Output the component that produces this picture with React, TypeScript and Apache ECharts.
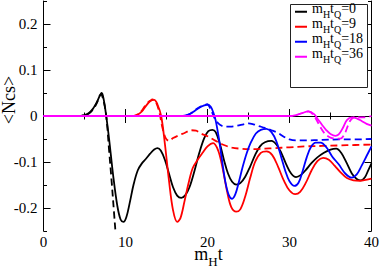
import React, { useEffect, useRef } from "react";
import * as echarts from "echarts";

const FONT = "Liberation Serif";

// legend / series identity
const quench = ["0", "9", "18", "36"];
const colors = ["#000000", "#ff0000", "#0000ff", "#ff00ff"];
const yMajor = [-0.2, -0.1, 0, 0.1, 0.2];

// mHtQ = 0 (solid / dashed)
const tK = [0,4.5,5,5.5,6,6.5,7.1,7.35,7.65,8,8.5,9,9.4,9.75,10.1,10.5,11,11.5,12,12.5,13,13.5,13.9,14.3,14.8,15.3,15.8,16.3,16.8,17.3,17.8,18.4,19,19.6,20.1,20.6,21,21.5,22,22.5,23,23.5,24,24.6,25.2,25.8,26.4,27,27.8,28.4,29,29.6,30.2,30.8,31.4,32,32.7,33.4,34.2,35,35.7,36.3,37,37.6,38.2,38.7,39.2,39.6,40];
const vK = [0,0,0.002,0.006,0.015,0.03,0.05,0.035,0,-0.05,-0.13,-0.195,-0.225,-0.23,-0.22,-0.19,-0.148,-0.118,-0.103,-0.093,-0.082,-0.073,-0.07,-0.075,-0.095,-0.125,-0.155,-0.173,-0.178,-0.172,-0.155,-0.12,-0.08,-0.048,-0.033,-0.03,-0.035,-0.06,-0.095,-0.125,-0.143,-0.149,-0.146,-0.132,-0.11,-0.085,-0.066,-0.057,-0.054,-0.062,-0.08,-0.105,-0.125,-0.133,-0.128,-0.117,-0.102,-0.09,-0.08,-0.073,-0.071,-0.08,-0.103,-0.125,-0.137,-0.14,-0.133,-0.118,-0.103];
const tKd = [0,4.5,5,5.5,6,6.5,7.0,7.3,7.65,8.0,8.3,8.6,8.9,9.2];
const vKd = [0,0,0.002,0.005,0.013,0.028,0.047,0.035,0,-0.075,-0.14,-0.21,-0.28,-0.35];

// mHtQ = 9
const tR = [0,11,11.5,12,12.5,13,13.5,13.9,14.35,14.8,15.3,15.8,16.3,16.7,17.2,17.7,18.2,18.8,19.4,20,20.7,21.3,21.8,22.4,22.9,23.5,24,24.6,25.2,25.8,26.5,27.2,27.9,28.6,29.3,30,30.7,31.3,32,32.7,33.4,34.1,34.8,35.5,36.2,37,37.8,38.6,39.3,40];
const vR = [0,0,0.003,0.01,0.022,0.032,0.035,0.025,0,-0.06,-0.14,-0.205,-0.23,-0.222,-0.185,-0.145,-0.113,-0.095,-0.08,-0.066,-0.059,-0.075,-0.11,-0.165,-0.198,-0.208,-0.203,-0.175,-0.135,-0.1,-0.08,-0.077,-0.085,-0.11,-0.14,-0.162,-0.17,-0.165,-0.145,-0.118,-0.098,-0.091,-0.095,-0.108,-0.122,-0.135,-0.14,-0.141,-0.139,-0.136];
const tRd = [0,11,11.5,12,12.5,13,13.3,13.7,14.1,14.5,14.9,15.3,15.8,16.5,17.2,18,18.6,19.2,20,21,22,23,24,25,26,27,28,30,32,34,36,38,40];
const vRd = [0,0,0.004,0.012,0.025,0.033,0.036,0.03,0.01,-0.025,-0.048,-0.054,-0.048,-0.042,-0.037,-0.031,-0.032,-0.038,-0.044,-0.054,-0.063,-0.069,-0.071,-0.072,-0.072,-0.071,-0.07,-0.068,-0.066,-0.065,-0.064,-0.063,-0.062];

// mHtQ = 18
const tB = [0,17,17.5,18,18.5,19,19.6,20,20.4,20.7,21,21.4,21.8,22.2,22.6,23,23.4,23.8,24.3,24.8,25.3,25.9,26.5,27.2,27.8,28.4,29,29.5,30,30.6,31.1,31.6,32.1,32.6,33.2,33.8,34.5,35.2,36,36.8,37.6,38.2,38.8,39.4,40];
const vB = [0,0,0.002,0.006,0.012,0.018,0.023,0.025,0.02,0.008,-0.01,-0.05,-0.1,-0.145,-0.172,-0.18,-0.17,-0.145,-0.11,-0.08,-0.057,-0.038,-0.03,-0.028,-0.035,-0.055,-0.09,-0.12,-0.142,-0.152,-0.145,-0.12,-0.09,-0.068,-0.058,-0.058,-0.068,-0.088,-0.105,-0.125,-0.134,-0.127,-0.108,-0.087,-0.066];
const tBd = [0,17,17.5,18,18.5,19,19.6,20,20.3,20.6,20.9,21.2,21.6,22,22.8,23.6,24.4,25,25.6,26.3,27,27.8,28.6,29.3,30,30.8,32,34,36,38,40];
const vBd = [0,0,0.002,0.006,0.013,0.019,0.024,0.025,0.018,0.006,-0.006,-0.014,-0.02,-0.023,-0.023,-0.021,-0.018,-0.016,-0.018,-0.022,-0.026,-0.031,-0.037,-0.045,-0.051,-0.053,-0.053,-0.052,-0.051,-0.051,-0.05];

// mHtQ = 36
const tM = [0,30,30.8,31.5,32.3,33,33.5,34,34.5,35,35.6,36,36.5,37,37.6,38.2,38.8,39.4,40];
const vM = [0,0,0.002,0.006,0.01,0.004,-0.008,-0.02,-0.031,-0.039,-0.043,-0.04,-0.026,-0.009,-0.003,-0.005,-0.011,-0.017,-0.021];
const tMd = [0,30,30.8,31.5,32.3,32.9,33.4,33.9,34.4,35,35.6,36.2,36.7,37.1,37.5,38,38.6,39.2,40];
const vMd = [0,0,0.002,0.006,0.01,0.003,-0.012,-0.028,-0.04,-0.047,-0.049,-0.049,-0.04,-0.022,-0.008,-0.002,-0.003,-0.003,0];

const zip = (t: number[], v: number[]) => t.map((x, i) => [x, v[i]]);

const names = quench.map((q) => `mHtQ=${q}`);

export default function App() {
  const ref = useRef<HTMLDivElement>(null);
  useEffect(() => {
    const chart = echarts.init(ref.current!, null, { renderer: "svg" });
    const solids = [zip(tK, vK), zip(tR, vR), zip(tB, vB), zip(tM, vM)];
    const dashes = [zip(tKd, vKd), zip(tRd, vRd), zip(tBd, vBd), zip(tMd, vMd)];
    const series: any[] = [];
    for (let i = 0; i < 4; i++) {
      series.push({
        type: "line", name: names[i] + " (dashed)", data: dashes[i], showSymbol: false, smooth: 0.35,
        clip: true, lineStyle: { color: colors[i], width: 1.8, type: [7, 4] }, itemStyle: { color: colors[i] },
      });
      series.push({
        type: "line", name: names[i], data: solids[i], showSymbol: false, smooth: 0.35,
        clip: true, lineStyle: { color: colors[i], width: 1.8 }, itemStyle: { color: colors[i] },
      });
    }
    const richLabel = { f: { fontFamily: FONT, fontSize: 15, color: "#000" } };
    const axisLine = { show: true, lineStyle: { color: "#000", width: 1 } };
    const baseX = {
      type: "value", min: 0, max: 40, interval: 10, axisLine,
      axisTick: { inside: true, length: 7, lineStyle: { color: "#000" } },
      minorTick: { show: true, splitNumber: 2, length: 3.5, lineStyle: { color: "#000" } },
      splitLine: { show: false }, minorSplitLine: { show: false },
    };
    const fmtY = (v: number) => {
      const r = Math.round(v * 10);
      return Math.abs(v * 10 - r) < 1e-6 ? `{f|${r === 0 ? "0" : String(r / 10)}}` : "";
    };
    const minorY = (pos: string, labels: boolean) => ({
      type: "value", position: pos, min: -0.25, max: 0.25, interval: 0.05, axisLine,
      axisTick: { inside: true, length: 3.5, lineStyle: { color: "#000" } },
      axisLabel: labels
        ? { show: true, formatter: fmtY, fontSize: 15, color: "#000", fontFamily: FONT, margin: 6, rich: richLabel }
        : { show: false },
      splitLine: { show: false },
    });
    const majorY = (pos: string) => ({
      type: "value", position: pos, min: -0.25, max: 0.25, interval: 0.05,
      axisLine: { show: false },
      axisTick: { inside: true, length: 7, customValues: yMajor, lineStyle: { color: "#000" } },
      axisLabel: { show: false }, splitLine: { show: false },
    });
    chart.setOption({
      animation: false,
      backgroundColor: "#fff",
      textStyle: { fontFamily: FONT },
      grid: { left: 43.5, right: 9.5, top: 1, bottom: 37, containLabel: false },
      xAxis: [
        {
          ...baseX, position: "bottom",
          axisLabel: { formatter: (v: number) => `{f|${v}}`, fontSize: 15, lineHeight: 10, color: "#000", fontFamily: FONT, margin: 5.5, rich: { f: { ...richLabel.f, lineHeight: 10 } } },
        },
        { ...baseX, position: "top", axisLabel: { show: false } },
      ],
      yAxis: [minorY("left", true), majorY("left"), minorY("right", false), majorY("right")],
      legend: {
        data: names, orient: "vertical", left: 295, top: 1.7, padding: 0, itemGap: -3,
        icon: "path://M0,0 L12,0 Z M0,6 L12,6 L12,8 L0,8 Z", itemWidth: 12, itemHeight: 8,
        selectedMode: false, z: 4,
        formatter: (n: string) => `{a|m}{s|H}{a|t}{s|Q}{a|=${n.split("=")[1]}}`,
        textStyle: {
          fontFamily: FONT, color: "#000", fontSize: 14,
          rich: {
            a: { fontFamily: FONT, fontSize: 14, lineHeight: 22, color: "#000" },
            s: { fontFamily: FONT, fontSize: 10, lineHeight: 7, verticalAlign: "bottom", color: "#000" },
          },
        },
      },
      graphic: [
        {
          type: "rect", z: 3, shape: { x: 290.5, y: 4.5, width: 77, height: 83 },
          style: { fill: "#fff", stroke: "#222", lineWidth: 1 },
        },
        {
          type: "text", x: 8.5, y: 100, rotation: Math.PI / 2, z: 5,
          style: { text: "<Ncs>", font: `18px ${FONT}`, fill: "#000", textAlign: "center", textVerticalAlign: "middle", align: "center", verticalAlign: "middle" },
        },
        {
          type: "text", x: 208.5, y: 254.2, z: 5,
          style: {
            text: "{a|m}{s|H}{a|t}", fill: "#000", font: `18px ${FONT}`,
            textAlign: "center", textVerticalAlign: "middle", align: "center", verticalAlign: "middle",
            rich: {
              a: { fontFamily: FONT, fontSize: 18, lineHeight: 28, fill: "#000" },
              s: { fontFamily: FONT, fontSize: 13, lineHeight: 9, verticalAlign: "bottom", fill: "#000" },
            },
          },
        },
      ],
      series,
    });
    return () => chart.dispose();
  }, []);
  return <div ref={ref} style={{ position: "absolute", left: 0, top: 0, width: 382, height: 268 }} />;
}
